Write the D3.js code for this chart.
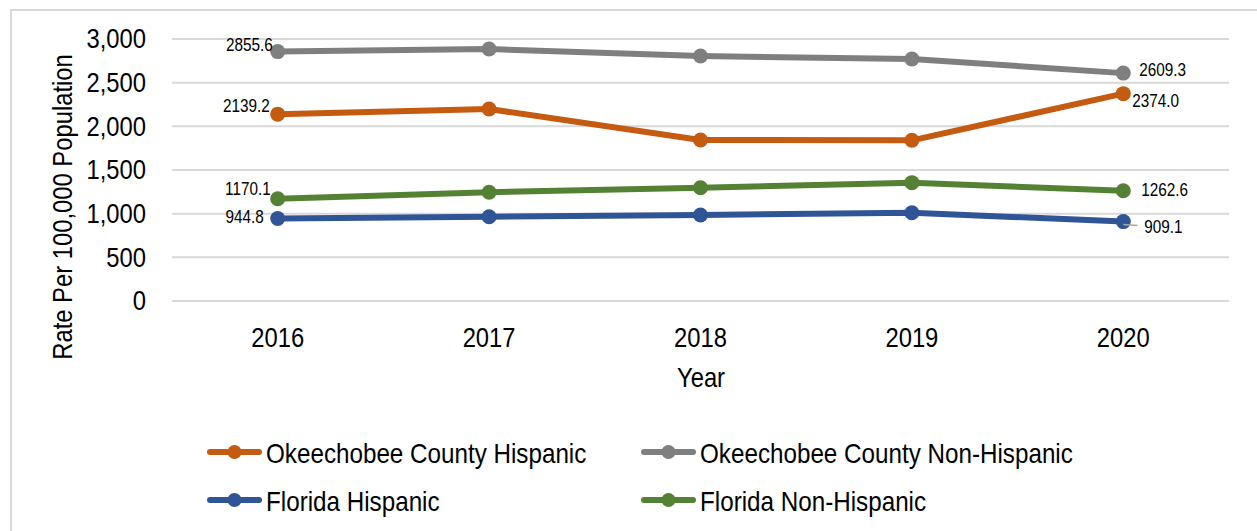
<!DOCTYPE html>
<html lang="en">
<head>
<meta charset="utf-8"/>
<title>Okeechobee rate chart</title>
<script src="https://d3js.org/d3.v7.min.js"></script>
<style>
  body { margin: 0; background: #fff; }
  text { font-family: "Liberation Sans", Arial, sans-serif; fill: #000; }
</style>
</head>
<body>
<script>
// chart data
var years = ["2016", "2017", "2018", "2019", "2020"];
var seriesNames = ["Okeechobee County Hispanic", "Okeechobee County Non-Hispanic", "Florida Hispanic", "Florida Non-Hispanic"];
var okeHispanic = [2139.2, 2198, 1843, 1840, 2374.0];
var okeNonHispanic = [2855.6, 2885, 2805, 2771, 2609.3];
var flHispanic = [944.8, 965, 985, 1011, 909.1];
var flNonHispanic = [1170.1, 1245, 1297, 1355, 1262.6];
var yTicks = [0, 500, 1000, 1500, 2000, 2500, 3000];

var w = 1257, h = 531;
var sx = 0.85; // squeeze text to look like a narrow font
var colors = ["#c55a11", "#7f7f7f", "#2f5597", "#548235"];
var series = [
  {name: seriesNames[0], values: okeHispanic, color: colors[0]},
  {name: seriesNames[1], values: okeNonHispanic, color: colors[1]},
  {name: seriesNames[2], values: flHispanic, color: colors[2]},
  {name: seriesNames[3], values: flNonHispanic, color: colors[3]}
];

var svg = d3.select("body").append("svg")
    .attr("width", w)
    .attr("height", h);

// helper: text placed at (x,y) and squeezed horizontally
function narrowText(x, y, str, size, anchor) {
  return svg.append("text")
      .attr("transform", "translate(" + x + "," + y + ") scale(" + sx + ",1)")
      .attr("text-anchor", anchor || "start")
      .style("font-size", size + "px")
      .text(str);
}

// outer frame
svg.append("rect")
    .attr("x", 11).attr("y", 10)
    .attr("width", 1260).attr("height", 540)
    .attr("fill", "#fff")
    .attr("stroke", "#d9d9d9")
    .attr("stroke-width", 2);

var x = d3.scaleBand().domain(years).range([172, 1229]);
var y = d3.scaleLinear().domain([0, 3000]).range([301, 39]);

// gridlines
svg.append("g")
    .selectAll("line")
    .data(yTicks)
    .enter().append("line")
    .attr("x1", 172).attr("x2", 1229)
    .attr("y1", function(d) { return y(d); })
    .attr("y2", function(d) { return y(d); })
    .attr("stroke", "#d9d9d9")
    .attr("stroke-width", 2);

// y axis labels
var yAxis = svg.append("g")
    .attr("transform", "translate(146,0)")
    .call(d3.axisLeft(y).tickValues(yTicks).tickSize(0).tickPadding(0).tickFormat(d3.format(",")));
yAxis.select(".domain").remove();
yAxis.selectAll("text")
    .style("font-size", "28px")
    .attr("fill", "#000")
    .attr("transform", "scale(" + sx + ",1)");

// x axis labels
var xAxis = svg.append("g")
    .attr("transform", "translate(0,327)")
    .call(d3.axisBottom(x).tickSize(0).tickPadding(0));
xAxis.select(".domain").remove();
xAxis.selectAll("text")
    .style("font-size", "28px")
    .attr("fill", "#000")
    .attr("transform", "scale(" + sx + ",1)");

// axis titles
svg.append("text")
    .attr("transform", "translate(72,207) rotate(-90) scale(" + sx + ",1)")
    .attr("text-anchor", "middle")
    .style("font-size", "28px")
    .text("Rate Per 100,000 Population");

narrowText(701, 387, "Year", 28, "middle");

var cx = function(d, i) { return x(years[i]) + x.bandwidth() / 2; };
var line = d3.line()
    .x(function(d, i) { return cx(d, i); })
    .y(function(d) { return y(d); });

// draw order: gray, orange, green, blue
[1, 0, 3, 2].forEach(function(k) {
  var s = series[k];
  svg.append("path")
      .datum(s.values)
      .attr("d", line)
      .attr("fill", "none")
      .attr("stroke", s.color)
      .attr("stroke-width", 6)
      .attr("stroke-linejoin", "round");
  svg.append("g").selectAll("circle")
      .data(s.values)
      .enter().append("circle")
      .attr("cx", cx)
      .attr("cy", function(d) { return y(d); })
      .attr("r", 7.5)
      .attr("fill", s.color);
});

// leader line for 909.1
svg.append("line")
    .attr("x1", cx(flHispanic[4], 4)).attr("y1", y(flHispanic[4]) + 3)
    .attr("x2", cx(flHispanic[4], 4) + 14).attr("y2", y(flHispanic[4]) + 4)
    .attr("stroke", "#a6a6a6").attr("stroke-width", 1.5);

// data labels at first and last points
var labelOffsets = [
  // [first dx, first dy, last dx, last dy]
  [-8, -2, 9, 13],
  [-5, -1, 16, 3],
  [-14, 5, 21, 11],
  [-7, -4, 18, 5]
];
series.forEach(function(s, k) {
  var o = labelOffsets[k];
  var first = s.values[0], last = s.values[s.values.length - 1];
  narrowText(cx(first, 0) + o[0], y(first) + o[1], d3.format(".1f")(first), 18, "end");
  narrowText(cx(last, 4) + o[2], y(last) + o[3], d3.format(".1f")(last), 18, "start");
});

// legend
var legendPos = [[207, 452], [641, 452], [207, 500], [641, 500]];
series.forEach(function(s, k) {
  var lx = legendPos[k][0], ly = legendPos[k][1];
  svg.append("line")
      .attr("x1", lx + 3).attr("x2", lx + 52)
      .attr("y1", ly).attr("y2", ly)
      .attr("stroke", s.color).attr("stroke-width", 6)
      .attr("stroke-linecap", "round");
  svg.append("circle").attr("cx", lx + 27.5).attr("cy", ly).attr("r", 7).attr("fill", s.color);
  narrowText(lx + 59, ly + 11, s.name, 28.5, "start");
});
</script>
</body>
</html>
